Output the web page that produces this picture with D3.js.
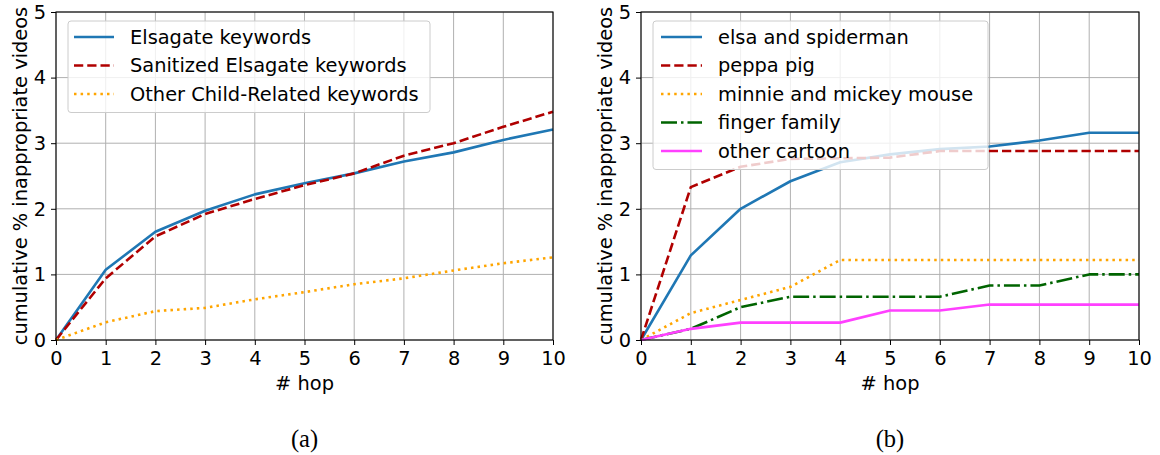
<!DOCTYPE html>
<html>
<head>
<meta charset="utf-8">
<script src="https://cdn.jsdelivr.net/npm/d3@7"></script>
<style>
  html, body { margin: 0; padding: 0; background: #fff; }
  svg { display: block; }
  text { font-family: "DejaVu Sans", sans-serif; }
  text.caption { font-family: "Liberation Serif", "Times New Roman", serif; }
</style>
</head>
<body>
<svg id="chart" width="1160" height="455"></svg>
<script>
// ---------- data ----------
const hops = [0, 1, 2, 3, 4, 5, 6, 7, 8, 9, 10];
const xTicks = [0, 1, 2, 3, 4, 5, 6, 7, 8, 9, 10];
const yTicks = [0, 1, 2, 3, 4, 5];

// panel (a)
const elsagate      = [0, 1.07, 1.65, 1.97, 2.22, 2.39, 2.54, 2.72, 2.86, 3.05, 3.21];
const sanitized     = [0, 0.94, 1.58, 1.92, 2.15, 2.36, 2.54, 2.81, 3.00, 3.25, 3.48];
const otherChild    = [0, 0.27, 0.44, 0.49, 0.62, 0.73, 0.85, 0.94, 1.06, 1.17, 1.26];

// panel (b)
const elsaSpiderman = [0, 1.29, 2.00, 2.42, 2.71, 2.83, 2.91, 2.95, 3.04, 3.16, 3.16];
const peppaPig      = [0, 2.33, 2.64, 2.76, 2.77, 2.78, 2.88, 2.88, 2.88, 2.88, 2.88];
const minnieMickey  = [0, 0.41, 0.61, 0.81, 1.22, 1.22, 1.22, 1.22, 1.22, 1.22, 1.22];
const fingerFamily  = [0, 0.17, 0.50, 0.66, 0.66, 0.66, 0.66, 0.83, 0.83, 1.00, 1.00];
const otherCartoon  = [0, 0.17, 0.265, 0.265, 0.265, 0.45, 0.45, 0.54, 0.54, 0.54, 0.54];

const seriesA = [
  { name: "Elsagate keywords", values: elsagate, color: "#1f77b4", dash: null },
  { name: "Sanitized Elsagate keywords", values: sanitized, color: "#b00000", dash: "9.25,4" },
  { name: "Other Child-Related keywords", values: otherChild, color: "#ffa500", dash: "2.5,4.1" }
];
const seriesB = [
  { name: "elsa and spiderman", values: elsaSpiderman, color: "#1f77b4", dash: null },
  { name: "peppa pig", values: peppaPig, color: "#b00000", dash: "9.25,4" },
  { name: "minnie and mickey mouse", values: minnieMickey, color: "#ffa500", dash: "2.5,4.1" },
  { name: "finger family", values: fingerFamily, color: "#006400", dash: "16,4,2.5,4" },
  { name: "other cartoon", values: otherCartoon, color: "#ff40ff", dash: null }
];

const svg = d3.select("#chart");
const FS = 19.4;

function panel(opts) {
  const { left, right, top, bottom, series, caption, legendW, yLabelX, legendLine, legendText } = opts;
  const x = d3.scaleLinear().domain([0, 10]).range([left, right]);
  const y = d3.scaleLinear().domain([0, 5]).range([bottom, top]);
  const g = svg.append("g");

  // grid
  g.append("g").selectAll("line").data(xTicks).join("line")
    .attr("x1", d => x(d)).attr("x2", d => x(d))
    .attr("y1", top).attr("y2", bottom)
    .attr("stroke", "#b0b0b0").attr("stroke-width", 1);
  g.append("g").selectAll("line").data(yTicks).join("line")
    .attr("x1", left).attr("x2", right)
    .attr("y1", d => y(d)).attr("y2", d => y(d))
    .attr("stroke", "#b0b0b0").attr("stroke-width", 1);

  // lines
  const line = d3.line().x((d, i) => x(hops[i])).y(d => y(d));
  series.forEach(s => {
    g.append("path").datum(s.values)
      .attr("d", line)
      .attr("fill", "none")
      .attr("stroke", s.color)
      .attr("stroke-width", 2.6)
      .attr("stroke-linejoin", "round")
      .attr("stroke-dasharray", s.dash);
  });

  // axes
  const xAxis = d3.axisBottom(x).tickValues(xTicks).tickSize(5).tickPadding(6).tickFormat(d3.format("d"));
  const yAxis = d3.axisLeft(y).tickValues(yTicks).tickSize(5).tickPadding(5).tickFormat(d3.format("d"));
  const gx = g.append("g").attr("transform", `translate(0,${bottom})`).call(xAxis);
  const gy = g.append("g").attr("transform", `translate(${left},0)`).call(yAxis);
  [gx, gy].forEach(a => {
    a.select(".domain").remove();
    a.selectAll("line").attr("stroke", "#000").attr("stroke-width", 1);
    a.selectAll("text").attr("font-size", FS).attr("fill", "#000");
  });

  // frame
  g.append("rect").attr("x", left).attr("y", top)
    .attr("width", right - left).attr("height", bottom - top)
    .attr("fill", "none").attr("stroke", "#000").attr("stroke-width", 1.1);

  // axis labels
  g.append("text").attr("x", (left + right) / 2).attr("y", 390)
    .attr("text-anchor", "middle").attr("font-size", FS).text("# hop");
  g.append("text")
    .attr("transform", `translate(${yLabelX},${(top + bottom) / 2}) rotate(-90)`)
    .attr("text-anchor", "middle")
    .attr("font-size", FS).text("cumulative % inappropriate videos");

  // caption
  g.append("text").attr("class", "caption")
    .attr("x", (left + right) / 2).attr("y", 447)
    .attr("text-anchor", "middle").attr("font-size", 24.5)
    .text(caption);

  // legend
  const lx = left + 12, ly = top + 9, rowH = 28.5;
  const lh = series.length * rowH + 6;
  const lg = g.append("g");
  lg.append("rect").attr("x", lx).attr("y", ly)
    .attr("width", legendW).attr("height", lh)
    .attr("rx", 3).attr("ry", 3)
    .attr("fill", "#fff").attr("fill-opacity", 0.8)
    .attr("stroke", "#cccccc").attr("stroke-width", 1);
  series.forEach((s, i) => {
    const cy = ly + 16 + i * rowH;
    lg.append("line").attr("x1", lx + legendLine[0]).attr("x2", lx + legendLine[1])
      .attr("y1", cy).attr("y2", cy)
      .attr("stroke", s.color).attr("stroke-width", 2.6)
      .attr("stroke-dasharray", s.dash);
    lg.append("text").attr("x", lx + legendText).attr("y", cy)
      .attr("dominant-baseline", "central")
      .attr("font-size", FS).text(s.name);
  });
}

panel({ left: 56, right: 553, top: 12, bottom: 340, series: seriesA, caption: "(a)",
        legendW: 362, yLabelX: 27, legendLine: [6, 46], legendText: 62 });
panel({ left: 641, right: 1139, top: 12, bottom: 340, series: seriesB, caption: "(b)",
        legendW: 335, yLabelX: 612, legendLine: [8, 49], legendText: 65 });
</script>
</body>
</html>
